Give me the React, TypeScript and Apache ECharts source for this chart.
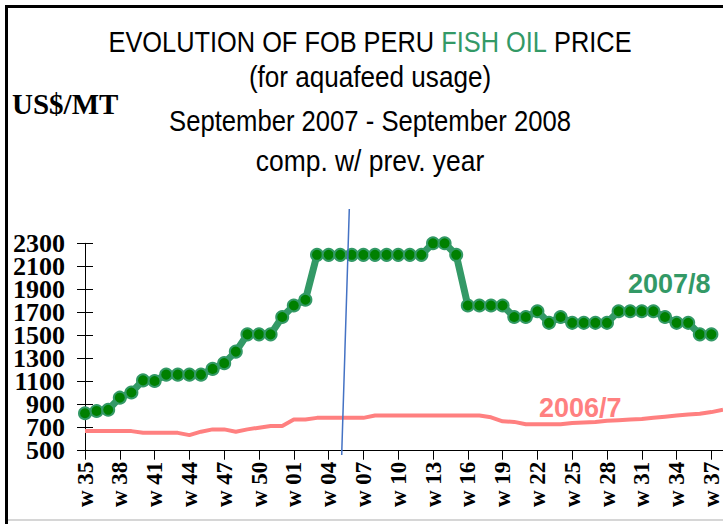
import React, { useEffect, useRef } from "react";
import * as echarts from "echarts";

const weeks = [
  "w 35", "w 36", "w 37", "w 38", "w 39", "w 40", "w 41", "w 42", "w 43", "w 44",
  "w 45", "w 46", "w 47", "w 48", "w 49", "w 50", "w 51", "w 52", "w 01", "w 02",
  "w 03", "w 04", "w 05", "w 06", "w 07", "w 08", "w 09", "w 10", "w 11", "w 12",
  "w 13", "w 14", "w 15", "w 16", "w 17", "w 18", "w 19", "w 20", "w 21", "w 22",
  "w 23", "w 24", "w 25", "w 26", "w 27", "w 28", "w 29", "w 30", "w 31", "w 32",
  "w 33", "w 34", "w 35", "w 36", "w 37", "w 38",
];

const price2007_8 = [
  825, 845, 855, 960, 1005, 1110, 1105, 1160, 1160, 1160,
  1160, 1210, 1260, 1360, 1510, 1510, 1510, 1660, 1760, 1810,
  2200, 2200, 2200, 2200, 2200, 2200, 2200, 2200, 2200, 2200,
  2300, 2300, 2200, 1760, 1760, 1760, 1760, 1660, 1660, 1710,
  1610, 1660, 1610, 1610, 1610, 1610, 1710, 1710, 1710, 1710,
  1660, 1610, 1610, 1510, 1510, null,
];

const price2006_7 = [
  670, 670, 670, 670, 670, 655, 655, 655, 655, 635,
  665, 685, 685, 665, 685, 700, 715, 715, 770, 770,
  785, 785, 785, 785, 785, 805, 805, 805, 805, 805,
  805, 805, 805, 805, 805, 790, 755, 750, 730, 730,
  730, 730, 740, 745, 750, 760, 765, 770, 775, 785,
  795, 805, 815, 820, 835, 855,
];

const titleLines = [
  "(for aquafeed usage)",
  "September 2007 - September 2008",
  "comp. w/ prev. year",
];

const yMin = 500;
const yMax = 2300;
const yStep = 200;

const GREEN = "#339966";
const RED = "#FF8080";

export default function App() {
  const ref = useRef<HTMLDivElement>(null);

  useEffect(() => {
    if (!ref.current) return;
    const chart = echarts.init(ref.current, null, { renderer: "svg" });
    const sans = "'Liberation Sans', Arial, sans-serif";
    const serif = "'Liberation Serif', 'Times New Roman', serif";
    const lineY = [77, 121, 160];
    const lineScale = [0.87, 0.855, 0.88];
    const titleStyle = (text: string, i: number) => ({
      type: "text",
      x: 370,
      y: lineY[i],
      scaleX: lineScale[i],
      style: {
        text,
        x: 0,
        y: 0,
        align: "center",
        verticalAlign: "middle",
        font: `30px ${sans}`,
        fill: "#000",
      },
    });
    const yLabel = {
      margin: 20,
      color: "#000",
      fontFamily: serif,
      fontWeight: "bold",
      fontSize: 26,
      hideOverlap: false,
      formatter: (v: number) => String(v),
    };
    chart.setOption({
      animation: false,
      backgroundColor: "#fff",
      grid: { left: 85, right: 0, top: 243.3, bottom: 73.3, containLabel: false },
      xAxis: {
        type: "category",
        data: weeks,
        boundaryGap: false,
        axisLine: { lineStyle: { color: "#000", width: 1 } },
        axisTick: { interval: 2, length: 9, lineStyle: { color: "#000" } },
        axisLabel: {
          interval: 2,
          rotate: 90,
          margin: 11,
          color: "#000",
          fontFamily: serif,
          fontWeight: "bold",
          fontSize: 23,
        },
        splitLine: { show: false },
      },
      yAxis: [
        {
          type: "value",
          min: yMin,
          max: yMax,
          interval: yStep,
          axisLine: { show: true, lineStyle: { color: "#000", width: 1 } },
          axisTick: { show: true, length: 8, lineStyle: { color: "#000" } },
          axisLabel: { ...yLabel, showMinLabel: false, showMaxLabel: false },
          splitLine: { show: false },
        },
        {
          type: "value",
          position: "left",
          min: yMin,
          max: yMax,
          interval: yMax - yMin,
          axisLine: { show: false },
          axisTick: { show: true, length: 8, lineStyle: { color: "#000" } },
          axisLabel: { ...yLabel },
          splitLine: { show: false },
        },
        {
          type: "value",
          position: "left",
          min: yMin,
          max: yMax,
          interval: yStep,
          axisLine: { show: false },
          axisTick: { show: true, inside: true, length: 8, lineStyle: { color: "#000" } },
          axisLabel: { show: false },
          splitLine: { show: false },
        },
      ],
      series: [
        {
          name: "2006/7",
          type: "line",
          data: price2006_7,
          showSymbol: false,
          symbol: "none",
          lineStyle: { color: RED, width: 4 },
          z: 2,
        },
        {
          name: "2007/8",
          type: "line",
          data: price2007_8,
          symbol: "circle",
          symbolSize: 12,
          showAllSymbol: true,
          clip: false,
          lineStyle: { color: GREEN, width: 7 },
          itemStyle: { color: "#008000", borderColor: GREEN, borderWidth: 2 },
          z: 3,
        },
      ],
      graphic: [
        {
          type: "line",
          shape: { x1: 6.5, y1: 5, x2: 6.5, y2: 524 },
          style: { stroke: "#000", lineWidth: 3 },
        },
        {
          type: "line",
          shape: { x1: 5, y1: 6.5, x2: 723, y2: 6.5 },
          style: { stroke: "#000", lineWidth: 3 },
        },
        {
          type: "line",
          shape: { x1: 8, y1: 520, x2: 723, y2: 520 },
          style: { stroke: "#c8c8c8", lineWidth: 1.5 },
        },
        {
          type: "text",
          x: 370,
          y: 42,
          scaleX: 0.846,
          style: {
            x: 0,
            y: 0,
            align: "center",
            verticalAlign: "middle",
            text: "{a|EVOLUTION OF FOB PERU }{g|FISH OIL}{a| PRICE}",
            rich: {
              a: { font: `30px ${sans}`, fill: "#000", color: "#000" },
              g: { font: `30px ${sans}`, fill: GREEN, color: GREEN },
            },
          },
        },
        titleStyle(titleLines[0], 0),
        titleStyle(titleLines[1], 1),
        titleStyle(titleLines[2], 2),
        {
          type: "text",
          left: 12,
          top: 89,
          style: { text: "US$/MT", font: `bold 29px ${serif}`, fill: "#000" },
        },
        {
          type: "text",
          left: 628,
          top: 270,
          style: { text: "2007/8", font: `bold 27px ${sans}`, fill: GREEN },
        },
        {
          type: "text",
          left: 539,
          top: 394,
          style: { text: "2006/7", font: `bold 27px ${sans}`, fill: RED },
        },
        {
          type: "line",
          shape: { x1: 349.3, y1: 209, x2: 341.7, y2: 455 },
          style: { stroke: "#4472C4", lineWidth: 1.5 },
          z: 10,
        },
      ],
    });
    return () => chart.dispose();
  }, []);

  return (
    <div
      ref={ref}
      style={{ position: "fixed", left: 0, top: 0, width: 723, height: 524, background: "#fff" }}
    />
  );
}
